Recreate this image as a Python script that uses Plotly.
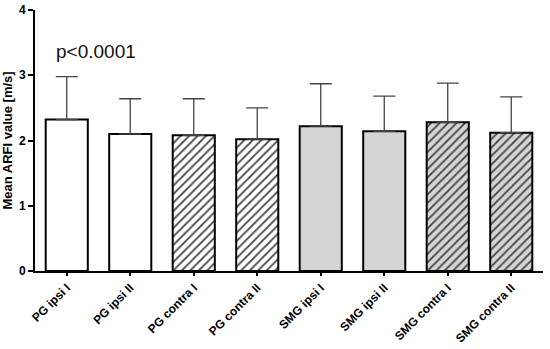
import plotly.graph_objects as go

categories = ["PG ipsi I", "PG ipsi II", "PG contra I", "PG contra II",
              "SMG ipsi I", "SMG ipsi II", "SMG contra I", "SMG contra II"]
means = [2.32, 2.10, 2.08, 2.02, 2.22, 2.14, 2.28, 2.12]
sds = [0.66, 0.54, 0.56, 0.48, 0.65, 0.54, 0.60, 0.55]
fill_colors = ["white", "white", "white", "white", "#d4d4d4", "#d4d4d4", "#d4d4d4", "#d4d4d4"]
hatch = ["", "", "/", "/", "", "", "/", "/"]
y_ticks = [0, 1, 2, 3, 4]

FONT = "Arial, Liberation Sans"

fig = go.Figure()
fig.add_trace(go.Bar(
    x=categories, y=means,
    marker=dict(
        color=fill_colors,
        line=dict(color="black", width=2),
        pattern=dict(shape=hatch, fgcolor=["#111111"] * 8, bgcolor=fill_colors,
                     fgopacity=1, size=6, solidity=0.3),
    ),
    error_y=dict(type="data", symmetric=False, array=sds, arrayminus=[0] * len(sds),
                 color="#444444", thickness=1.3, width=11),
    showlegend=False,
))

fig.add_annotation(text="p<0.0001", xref="paper", yref="y", x=0.038, y=3.37,
                   xanchor="left", yanchor="middle", showarrow=False,
                   font=dict(family=FONT, size=19, color="#111111"))

fig.update_layout(
    width=550, height=349,
    margin=dict(l=35, r=7, t=10, b=78, autoexpand=False),
    paper_bgcolor="white", plot_bgcolor="white",
    bargap=0.337,
    font=dict(family=FONT, color="black"),
    xaxis=dict(
        type="category", range=[-0.5, 7.5], automargin=False,
        showline=True, linecolor="black", linewidth=2,
        ticks="outside", ticklen=3, tickcolor="black", tickwidth=1.5,
        tickangle=-45,
        tickfont=dict(family=FONT, size=12, color="black", weight="bold"),
        showgrid=False, zeroline=False,
    ),
    yaxis=dict(
        range=[0, 4], tickvals=y_ticks, automargin=False,
        showline=True, linecolor="black", linewidth=2,
        ticks="outside", ticklen=5, tickcolor="black", tickwidth=2,
        tickfont=dict(family=FONT, size=12, color="black", weight="bold"),
        title=dict(text="Mean ARFI value [m/s]", standoff=6,
                   font=dict(family=FONT, size=13, color="black", weight="bold")),
        showgrid=False, zeroline=False,
    ),
)

fig.write_html("out.html", post_script="document.body.style.margin='0';",
               config={"displayModeBar": False})
